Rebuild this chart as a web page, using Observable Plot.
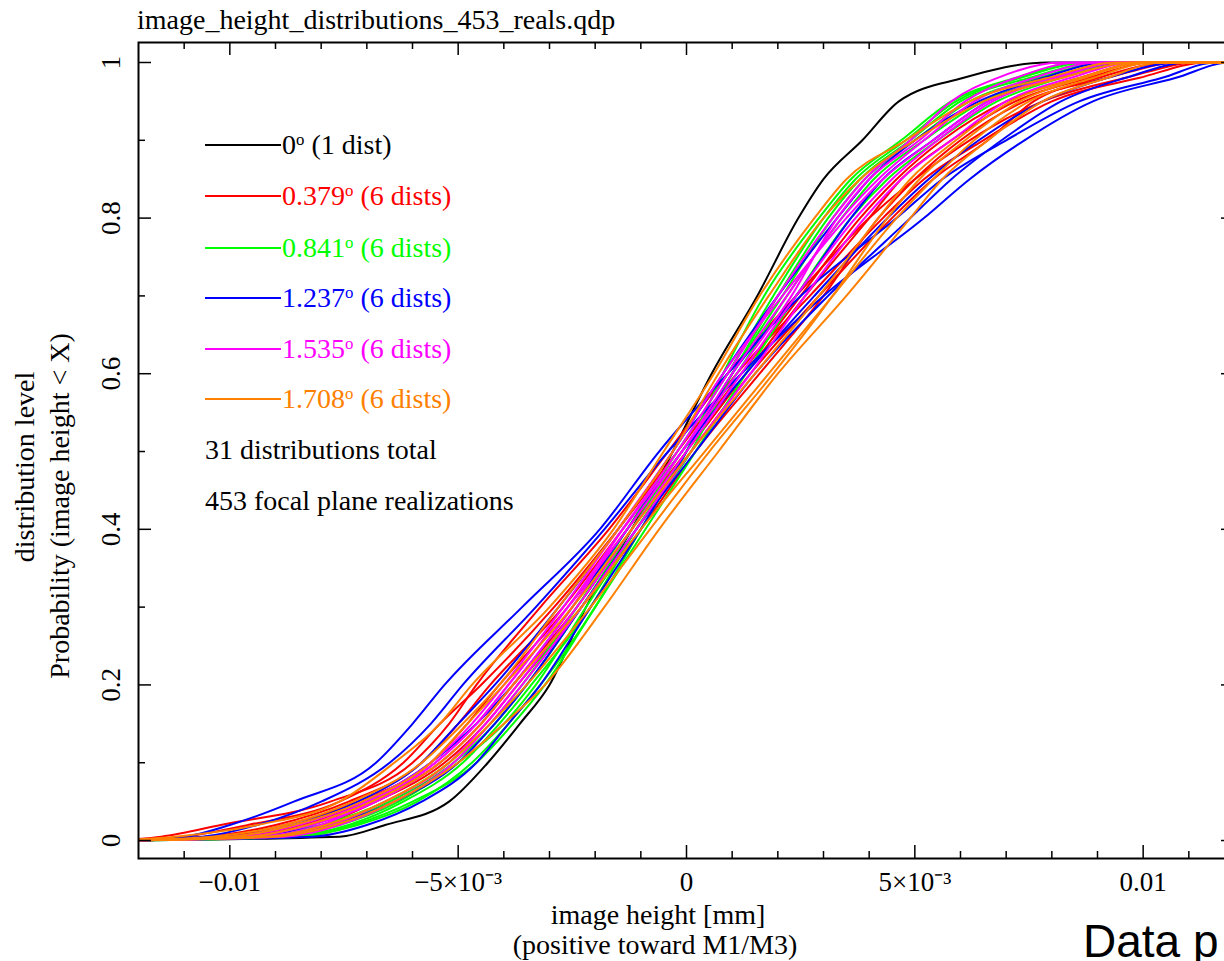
<!DOCTYPE html>
<html><head><meta charset="utf-8">
<script src="https://cdn.jsdelivr.net/npm/d3@7"></script>
<script src="https://cdn.jsdelivr.net/npm/@observablehq/plot@0.6"></script>
<style>
html,body{margin:0;padding:0;background:#fff;overflow:hidden;width:1224px;height:961px;}
#wrap{position:relative;width:1224px;height:961px;overflow:hidden;font-family:"Liberation Serif","Times New Roman",serif;color:#000;}
#chart{position:absolute;left:0;top:0;width:1260px;}
#chart svg{max-width:none !important;}
.t{position:absolute;white-space:nowrap;line-height:1;font-size:28px;}
.leg{position:absolute;left:205px;white-space:nowrap;line-height:1;font-size:28px;display:flex;align-items:center;}
.leg svg{display:block;margin-right:1px;}
sup{font-size:0.6em;vertical-align:0.55em;line-height:0;}
.rot{position:absolute;white-space:nowrap;line-height:1;font-size:28px;transform:translate(-50%,-50%) rotate(-90deg);}
</style></head><body>
<div id="wrap"><div id="chart"></div></div>
<script>
// ---------- data (image height in units of 1e-3 mm at fixed probability levels) ----------
const probLevels = [0.005, 0.02, 0.05, 0.1, 0.15, 0.2, 0.3, 0.4, 0.5, 0.6, 0.7, 0.8, 0.85, 0.9, 0.95, 0.98, 1];
const xUnit = 1e-3;
const xStart = -12.5, xEnd = 12.5;

const dist0deg = [
  [-7.6, -6.6, -5.2, -4.35, -3.65, -3.0, -2.2, -1.2, -0.3, 0.55, 1.55, 2.45, 3.0, 3.85, 4.65, 6.05, 7.9]
];
const dist0379 = [
  [-11.5, -10.2, -7.8, -6.0, -5.2, -4.6, -3.2, -1.7, -0.4, 0.9, 2.4, 4.0, 5.0, 6.2, 7.8, 9.6, 11.2],
  [-11.0, -9.6, -7.6, -6.2, -5.4, -4.5, -2.9, -1.5, -0.2, 1.1, 2.7, 4.3, 5.2, 6.5, 8.0, 9.9, 11.4],
  [-10.2, -8.8, -7.2, -5.6, -4.8, -4.1, -2.6, -1.3, 0.0, 1.3, 2.6, 4.0, 4.7, 5.8, 7.2, 8.8, 10.2],
  [-9.8, -8.4, -7.0, -5.4, -4.5, -3.8, -2.4, -1.2, 0.1, 1.4, 2.9, 4.5, 5.4, 6.6, 7.6, 9.0, 10.6],
  [-10.5, -9.0, -7.4, -5.8, -5.0, -4.3, -2.7, -1.4, -0.1, 1.2, 2.5, 3.8, 4.6, 5.6, 7.0, 8.6, 10.0],
  [-9.4, -8.0, -6.8, -5.3, -4.4, -3.7, -2.3, -1.0, 0.2, 1.6, 3.0, 4.2, 5.0, 6.0, 7.4, 9.2, 10.8]
];
const dist0841 = [
  [-8.6, -7.2, -5.9, -4.7, -3.9, -3.2, -2.0, -1.0, 0.0, 0.8, 1.7, 2.9, 3.6, 4.7, 5.8, 7.2, 8.6],
  [-8.8, -7.4, -6.2, -4.9, -4.1, -3.4, -2.1, -1.1, 0.1, 1.0, 2.0, 3.1, 3.8, 4.9, 6.0, 7.5, 9.0],
  [-9.2, -7.8, -6.5, -5.1, -4.2, -3.5, -2.3, -1.2, -0.1, 1.1, 2.2, 3.4, 4.1, 5.2, 6.5, 8.0, 9.4],
  [-8.4, -7.3, -6.0, -4.6, -3.8, -3.1, -2.0, -0.9, 0.2, 1.3, 2.4, 3.6, 4.4, 5.5, 6.8, 8.2, 9.6],
  [-9.0, -7.6, -6.3, -5.0, -4.0, -3.3, -2.2, -1.1, 0.0, 1.0, 2.1, 3.2, 3.9, 5.0, 6.2, 7.7, 9.2],
  [-9.4, -8.0, -6.6, -5.2, -4.3, -3.6, -2.4, -1.3, -0.2, 0.9, 1.9, 3.0, 3.7, 4.8, 5.9, 7.3, 8.8]
];
const dist1237 = [
  [-11.0, -10.0, -8.6, -6.8, -6.0, -5.3, -3.6, -1.9, -0.6, 0.9, 2.5, 4.6, 5.6, 7.0, 8.6, 10.4, 11.6],
  [-10.6, -9.4, -8.0, -6.5, -5.6, -4.9, -3.3, -1.8, -0.4, 1.2, 3.0, 5.2, 6.2, 7.4, 8.9, 10.7, 11.9],
  [-8.2, -7.0, -5.8, -4.6, -3.9, -3.2, -2.1, -1.0, 0.0, 1.0, 2.4, 3.6, 4.3, 5.4, 6.6, 8.0, 9.6],
  [-9.5, -8.2, -7.0, -5.6, -4.6, -3.8, -2.5, -1.3, -0.1, 1.3, 2.8, 4.4, 5.3, 6.4, 7.8, 9.2, 10.8],
  [-9.0, -7.8, -6.4, -5.0, -4.2, -3.5, -2.3, -1.1, 0.2, 1.5, 3.1, 4.9, 5.8, 6.9, 8.2, 9.6, 11.0],
  [-10.0, -8.6, -7.2, -5.8, -5.0, -4.2, -2.8, -1.5, -0.3, 0.8, 2.0, 3.3, 4.0, 5.0, 6.4, 7.8, 9.2]
];
const dist1535 = [
  [-9.8, -8.2, -6.8, -5.4, -4.5, -3.8, -2.5, -1.4, -0.2, 0.9, 2.0, 3.2, 3.9, 4.9, 5.8, 6.8, 8.2],
  [-9.4, -8.0, -6.9, -5.5, -4.6, -3.9, -2.6, -1.3, -0.1, 1.0, 2.2, 3.4, 4.2, 5.2, 6.3, 7.6, 9.0],
  [-9.0, -7.8, -6.6, -5.2, -4.4, -3.7, -2.4, -1.2, 0.0, 1.2, 2.4, 3.7, 4.5, 5.5, 6.7, 8.1, 9.5],
  [-10.0, -8.5, -7.1, -5.6, -4.7, -4.0, -2.7, -1.5, -0.3, 0.8, 2.1, 3.5, 4.3, 5.4, 6.6, 8.0, 9.4],
  [-8.8, -7.6, -6.4, -5.1, -4.3, -3.6, -2.3, -1.1, 0.1, 1.4, 2.6, 3.9, 4.7, 5.8, 7.0, 8.4, 9.8],
  [-9.6, -8.3, -7.0, -5.5, -4.6, -3.9, -2.6, -1.4, -0.1, 1.1, 2.3, 3.3, 4.0, 5.1, 6.1, 7.2, 8.6]
];
const dist1708 = [
  [-11.2, -9.4, -7.6, -6.4, -5.4, -4.7, -3.0, -1.6, -0.5, 0.6, 1.6, 2.8, 3.5, 4.8, 6.2, 7.9, 9.4],
  [-9.0, -7.7, -6.4, -5.0, -4.0, -3.1, -1.8, -0.6, 0.7, 2.0, 3.5, 4.9, 5.6, 6.6, 7.8, 9.2, 10.4],
  [-10.4, -8.8, -7.3, -5.8, -4.9, -4.1, -2.8, -1.5, -0.3, 0.7, 1.8, 3.0, 3.8, 5.0, 6.5, 8.2, 9.8],
  [-9.6, -8.3, -6.9, -5.4, -4.5, -3.8, -2.3, -1.0, 0.4, 1.8, 3.2, 4.6, 5.4, 6.3, 7.5, 8.9, 10.2],
  [-10.0, -8.6, -7.1, -5.6, -4.8, -4.0, -2.5, -1.2, 0.1, 1.5, 2.9, 4.2, 4.9, 5.9, 7.1, 8.6, 10.0],
  [-9.2, -7.9, -6.6, -5.2, -4.3, -3.5, -2.1, -0.8, 0.5, 1.9, 3.2, 4.4, 5.1, 6.1, 7.3, 8.7, 10.0]
];

const groupLegend = ["0", "0.379", "0.841", "1.237", "1.535", "1.708"];
const groupCounts = ["(1 dist)", "(6 dists)", "(6 dists)", "(6 dists)", "(6 dists)", "(6 dists)"];
const groupColors = ["#000000", "#ff0000", "#00ff00", "#0000ff", "#ff00ff", "#ff8000"];
const groupData = [dist0deg, dist0379, dist0841, dist1237, dist1535, dist1708];

const xTickValues = [-0.01, -0.005, 0, 0.005, 0.01];
const xTickLabels = ["\u22120.01", "\u22125\u00d710\u207b\u00b3", "0", "5\u00d710\u207b\u00b3", "0.01"];
const yTickValues = [0, 0.2, 0.4, 0.6, 0.8, 1];
const yTickLabels = ["0", "0.2", "0.4", "0.6", "0.8", "1"];
const yMinorValues = [0.1, 0.3, 0.5, 0.7, 0.9];
const xMinorValues = [-0.011, -0.009, -0.008, -0.007, -0.006, -0.004, -0.003, -0.002, -0.001, 0.001, 0.002, 0.003, 0.004, 0.006, 0.007, 0.008, 0.009, 0.011];

// ---------- build table ----------
const rows = [];
groupData.forEach((curves, g) => {
  curves.forEach((vals, i) => {
    const id = g + "-" + i;
    rows.push({curve: id, color: groupColors[g], x: xStart * xUnit, p: 0});
    vals.forEach((v, k) => rows.push({curve: id, color: groupColors[g], x: v * xUnit, p: probLevels[k]}));
    rows.push({curve: id, color: groupColors[g], x: xEnd * xUnit, p: 1});
  });
});

const W = 1260, H = 961;
const mL = 138, mR = W - 1234, mT = 42, mB = H - 858;
const plotW = W - mL - mR, plotH = H - mT - mB;
const fontFam = "'Liberation Serif','Times New Roman',serif";

const xt = xTickValues.map((v, i) => ({v, label: xTickLabels[i]}));
const yt = yTickValues.map((v, i) => ({v, label: yTickLabels[i]}));

const chart = Plot.plot({
  width: W, height: H,
  marginLeft: mL, marginRight: mR, marginTop: mT, marginBottom: mB,
  x: {domain: [-0.012, 0.012], axis: null, label: null},
  y: {domain: [-0.0231, 1.0257], axis: null, label: null},
  color: {type: "identity"},
  style: {fontFamily: fontFam, background: "white", color: "black", overflow: "visible", maxWidth: "none"},
  marks: [
    Plot.line(rows, {x: "x", y: "p", z: "curve", stroke: "color", strokeWidth: 2, curve: "monotone-x", clip: true}),
    Plot.ruleX(xMinorValues, {x: d => d, insetTop: plotH - 7, strokeWidth: 1.5}),
    Plot.ruleX(xMinorValues, {x: d => d, insetBottom: plotH - 7, strokeWidth: 1.5}),
    Plot.ruleX(xTickValues, {x: d => d, insetTop: plotH - 13, strokeWidth: 1.5}),
    Plot.ruleX(xTickValues, {x: d => d, insetBottom: plotH - 13, strokeWidth: 1.5}),
    Plot.ruleY(yMinorValues, {y: d => d, insetRight: plotW - 7, strokeWidth: 1.5}),
    Plot.ruleY(yMinorValues, {y: d => d, insetLeft: plotW - 7, strokeWidth: 1.5}),
    Plot.ruleY(yTickValues, {y: d => d, insetRight: plotW - 13, strokeWidth: 1.5}),
    Plot.ruleY(yTickValues, {y: d => d, insetLeft: plotW - 13, strokeWidth: 1.5}),
    Plot.frame({stroke: "black", strokeWidth: 2}),
    Plot.text(xt, {x: "v", text: "label", frameAnchor: "bottom", dy: 24, fontSize: 27, lineAnchor: "middle", fill: "black"}),
    Plot.text(yt, {y: "v", text: "label", frameAnchor: "left", dx: -27, rotate: -90, fontSize: 27, textAnchor: "middle", lineAnchor: "middle", fill: "black"})
  ]
});
chart.style.maxWidth = "none";
document.getElementById("chart").appendChild(chart);

// ---------- overlay texts ----------
const wrap = document.getElementById("wrap");
function addDiv(cls, html, style) {
  const d = document.createElement("div");
  d.className = cls; d.innerHTML = html;
  Object.assign(d.style, style);
  wrap.appendChild(d);
  return d;
}
addDiv("t", "image_height_distributions_453_reals.qdp", {left: "137px", top: "6px"});
addDiv("t", "image height [mm]", {left: "658px", top: "901px", transform: "translateX(-50%)"});
addDiv("t", "(positive toward M1/M3)", {left: "655px", top: "931px", transform: "translateX(-50%)"});
addDiv("rot", "distribution level", {left: "25px", top: "467px"});
addDiv("rot", "Probability (image height &lt; X)", {left: "60px", top: "506px"});
addDiv("t", "Data p", {left: "1083px", top: "918px", fontFamily: "'Liberation Sans',Arial,sans-serif", fontSize: "46px"});

const legendY = [145, 196, 248, 298, 349, 399];
groupLegend.forEach((lab, g) => {
  const c = groupColors[g];
  addDiv("leg", `<svg width="76" height="4"><line x1="0" x2="76" y1="2" y2="2" stroke="${c}" stroke-width="2"/></svg><span style="color:${c}">${lab}<sup>o</sup> ${groupCounts[g]}</span>`,
    {top: (legendY[g] - 14) + "px"});
});
addDiv("t", "31 distributions total", {left: "205px", top: "436px"});
addDiv("t", "453 focal plane realizations", {left: "205px", top: "487px"});
</script>
</body></html>
